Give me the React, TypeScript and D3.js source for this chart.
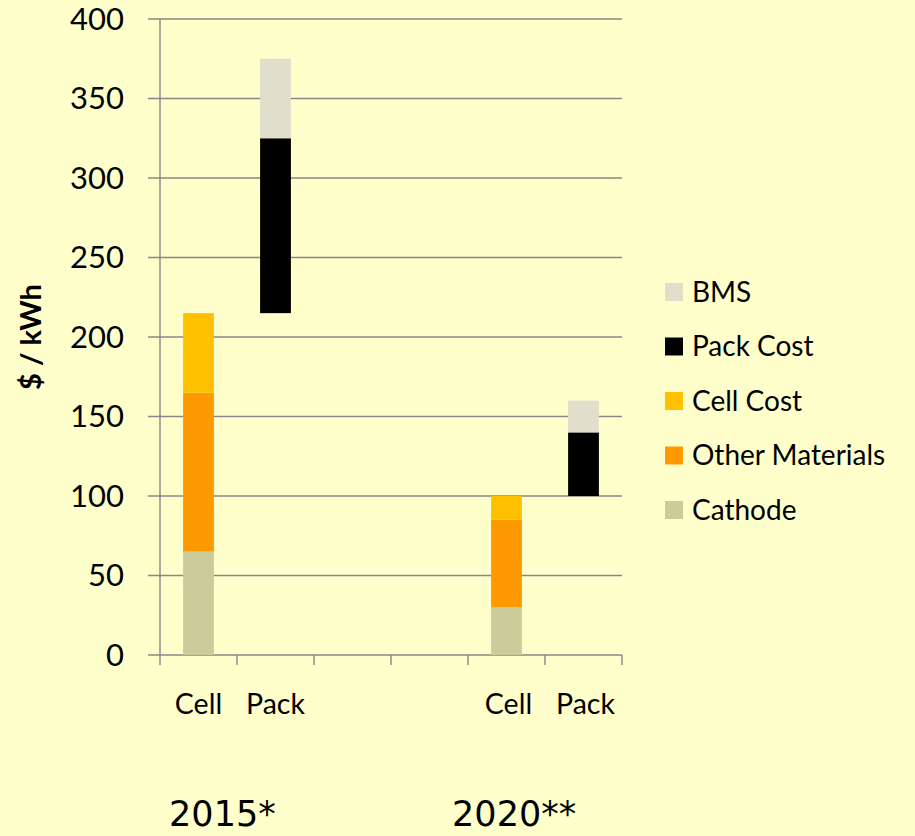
import React from "react";
import * as d3 from "d3";

const categories = ["Cell", "Pack", "", "", "Cell", "Pack"];
const spacer = [0, 215, 0, 0, 0, 100];
const cathode = [65, 0, 0, 0, 30, 0];
const otherMaterials = [100, 0, 0, 0, 55, 0];
const cellCost = [50, 0, 0, 0, 15, 0];
const packCost = [0, 110, 0, 0, 0, 40];
const bms = [0, 50, 0, 0, 0, 20];
const yTicks = [0, 50, 100, 150, 200, 250, 300, 350, 400];
const groupLabels = ["2015*", "2020**"];
const groupStart = [0, 4];

const seriesDefs = [
  { key: "spacer", name: "", values: spacer, color: "none" },
  { key: "cathode", name: "Cathode", values: cathode, color: "#CCCC9A" },
  { key: "other", name: "Other Materials", values: otherMaterials, color: "#FF9900" },
  { key: "cell", name: "Cell Cost", values: cellCost, color: "#FFC000" },
  { key: "pack", name: "Pack Cost", values: packCost, color: "#000000" },
  { key: "bms", name: "BMS", values: bms, color: "#DFDFCB" },
];

const W = 915;
const H = 836;
const x0 = 160;
const x1 = 622;
const yTop = 19;
const yBottom = 655;

export default function App() {
  const ids = categories.map((_, i) => String(i));
  const x = d3.scaleBand<string>().domain(ids).range([x0, x1]).paddingInner(0.6).paddingOuter(0.3);
  const y = d3.scaleLinear().domain([0, 400]).range([yBottom, yTop]);

  const rows = categories.map((c, i) => {
    const r: Record<string, number | string> = { id: String(i) };
    seriesDefs.forEach((s) => (r[s.key] = s.values[i]));
    return r;
  });
  const stack = d3.stack<any>().keys(seriesDefs.map((s) => s.key));
  const stacked = stack(rows as any);

  const step = x.step();
  const boundaries = d3.range(categories.length + 1).map((i) => x0 + i * step);

  const legendItems = [...seriesDefs].filter((s) => s.key !== "spacer").reverse();

  const grid = "#878787";
  const font = "Lato, 'Open Sans', sans-serif";

  return (
    <svg width={W} height={H} style={{ position: "absolute", left: 0, top: 0, background: "#FFFFCC" }}>
      <rect x={0} y={0} width={W} height={H} fill="#FFFFCC" />
      {yTicks.map((t) => (
        <g key={t}>
          <line x1={148} x2={x1} y1={y(t)} y2={y(t)} stroke={grid} strokeWidth={1.4} />
          <text x={124} y={y(t)} dy="0.35em" textAnchor="end" fontFamily={font} fontSize={31} fill="#000">
            {t}
          </text>
        </g>
      ))}
      <line x1={x0} x2={x0} y1={yTop} y2={yBottom} stroke={grid} strokeWidth={1.4} />
      {boundaries.map((b, i) => (
        <line key={i} x1={b} x2={b} y1={yBottom} y2={yBottom + 10} stroke={grid} strokeWidth={1.4} />
      ))}
      {stacked.map((layer, li) => {
        const def = seriesDefs[li];
        if (def.color === "none") return null;
        return (
          <g key={def.key}>
            {layer.map((d, i) =>
              d[1] - d[0] > 0 ? (
                <rect
                  key={i}
                  x={x(String(i))}
                  width={x.bandwidth()}
                  y={y(d[1])}
                  height={y(d[0]) - y(d[1])}
                  fill={def.color}
                />
              ) : null
            )}
          </g>
        );
      })}
      {categories.map((c, i) =>
        c ? (
          <text
            key={i}
            x={(x(String(i)) as number) + x.bandwidth() / 2 + (i >= 4 ? 2 : 0)}
            y={714}
            textAnchor="middle"
            fontFamily={font}
            fontSize={28.5}
            fill="#000"
          >
            {c}
          </text>
        ) : null
      )}
      {groupLabels.map((g, i) => {
        const a = groupStart[i];
        const sx = (x(String(a)) as number) - (i === 0 ? 14 : 39);
        return (
          <text key={g} x={sx} y={826} textAnchor="start" fontFamily="'DejaVu Sans', sans-serif" fontSize={35} fill="#000">
            {g}
          </text>
        );
      })}
      <text
        transform="translate(41,337) rotate(-90)"
        textAnchor="middle"
        fontFamily={font}
        fontWeight="bold"
        fontSize={29}
        fill="#000"
      >
        $ / kWh
      </text>
      {legendItems.map((s, i) => {
        const cy = 292 + i * 54.5;
        return (
          <g key={s.key}>
            <rect x={665} y={cy - 9} width={18} height={18} fill={s.color} />
            <text x={692} y={cy} dy="0.35em" fontFamily={font} fontSize={28} fill="#000">
              {s.name}
            </text>
          </g>
        );
      })}
    </svg>
  );
}
